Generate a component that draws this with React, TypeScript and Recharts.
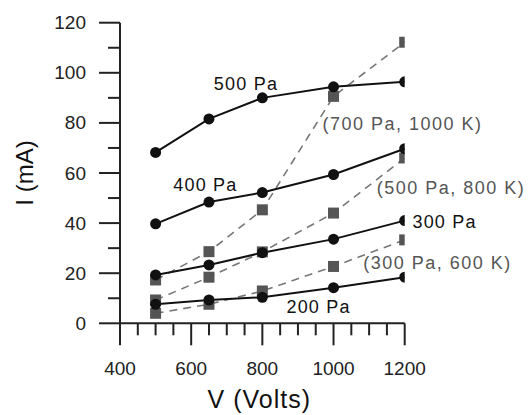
import React from 'react';
import { LineChart, Line, XAxis, YAxis, ReferenceDot } from 'recharts';

const voltages = [500, 650, 800, 1000, 1200];
const i200 = [7.6, 9.3, 10.4, 14.2, 18.4];
const i300 = [19.3, 23.3, 28.2, 33.6, 41];
const i400 = [39.7, 48.4, 52.2, 59.4, 69.7];
const i500 = [68.2, 81.6, 90, 94.4, 96.4];
const s300_600 = [4, 7.6, 12.9, 22.7, 33.3];
const s500_800 = [9.3, 18.4, 28.5, 44, 66];
const s700_1000 = [17.3, 28.6, 45.3, 90.6, 112.2];

const xTicks = [400, 450, 500, 550, 600, 650, 700, 750, 800, 850, 900, 950, 1000, 1050, 1100, 1150, 1200];
const yTicks = [0, 10, 20, 30, 40, 50, 60, 70, 80, 90, 100, 110, 120];

const annotations = [
  { text: '500 Pa', v: 754, i: 95.7, kind: 'circle' },
  { text: '400 Pa', v: 640, i: 55.3, kind: 'circle' },
  { text: '300 Pa', v: 1312, i: 40.5, kind: 'circle' },
  { text: '200 Pa', v: 958, i: 6.5, kind: 'circle' },
  { text: '(700 Pa, 1000 K)', v: 1194, i: 79.7, kind: 'square' },
  { text: '(500 Pa, 800 K)', v: 1330, i: 54.1, kind: 'square' },
  { text: '(300 Pa, 600 K)', v: 1292, i: 24.1, kind: 'square' },
];

const toData = (vals: number[]) => voltages.map((v, k) => ({ v, i: vals[k] }));

const FONT = '"Liberation Sans", Arial, Helvetica, sans-serif';

const circleDot = (props: any) => {
  const { cx, cy, index } = props;
  return <circle key={`c${index}`} cx={cx} cy={cy} r={5.5} fill="#111" />;
};
const squareDot = (props: any) => {
  const { cx, cy, index } = props;
  return <rect key={`s${index}`} x={cx - 5.5} y={cy - 5.5} width={11} height={11} fill="#555" />;
};

const XTick = (props: any) => {
  const { x, y, payload } = props;
  const v = payload.value;
  const major = (v - 400) % 200 === 0;
  return (
    <g>
      <line x1={x} x2={x} y1={y} y2={y + (major ? 22 : 12)} stroke="#222" strokeWidth={2} />
      {major && (
        <text x={x} y={y + 45} textAnchor="middle" dominantBaseline="central" fontFamily={FONT} fontSize={19} fill="#222">
          {v}
        </text>
      )}
    </g>
  );
};

const YTick = (props: any) => {
  const { x, y, payload } = props;
  const v = payload.value;
  const major = v % 20 === 0;
  return (
    <g>
      <line x1={x - (major ? 21 : 12)} x2={x} y1={y} y2={y} stroke="#222" strokeWidth={2} />
      {major && (
        <text x={x - 34} y={y} textAnchor="end" dominantBaseline="central" fontFamily={FONT} fontSize={19} fill="#222">
          {v}
        </text>
      )}
    </g>
  );
};

export default function App() {
  return (
    <div style={{ position: 'absolute', left: 0, top: 0, background: '#fff' }}>
      <LineChart width={528} height={415} margin={{ top: 22.7, right: 123.3, bottom: 0, left: 0 }}>
        <XAxis
          type="number"
          dataKey="v"
          domain={[400, 1200]}
          ticks={xTicks}
          interval={0}
          tick={<XTick />}
          tickLine={false}
          tickSize={0}
          tickMargin={0}
          axisLine={{ stroke: '#222', strokeWidth: 2 }}
          height={91.7}
          allowDataOverflow
          label={{
            content: (p: any) => {
              const vb = p.viewBox;
              return (
                <text x={vb.x + vb.width / 2 - 3} y={vb.y + 76} textAnchor="middle" dominantBaseline="central" fontFamily={FONT} fontSize={25} letterSpacing={1} fill="#111">
                  V (Volts)
                </text>
              );
            },
          }}
        />
        <YAxis
          type="number"
          domain={[0, 120]}
          ticks={yTicks}
          interval={0}
          tick={<YTick />}
          tickLine={false}
          tickSize={0}
          tickMargin={0}
          axisLine={{ stroke: '#222', strokeWidth: 2 }}
          width={120}
          allowDataOverflow
          label={{
            content: (p: any) => {
              const vb = p.viewBox;
              const cy = vb.y + vb.height / 2;
              return (
                <text transform={`translate(${vb.x + 24}, ${cy}) rotate(-90)`} textAnchor="middle" dominantBaseline="central" fontFamily={FONT} fontSize={24} fill="#111">
                  I (mA)
                </text>
              );
            },
          }}
        />
        {[s700_1000, s500_800, s300_600].map((s, k) => (
          <Line
            key={`sq${k}`}
            data={toData(s)}
            dataKey="i"
            type="linear"
            stroke="#777"
            strokeWidth={1.6}
            strokeDasharray="8 6"
            dot={squareDot}
            activeDot={false}
            isAnimationActive={false}
          />
        ))}
        {[i500, i400, i300, i200].map((s, k) => (
          <Line
            key={`ci${k}`}
            data={toData(s)}
            dataKey="i"
            type="linear"
            stroke="#111"
            strokeWidth={2}
            dot={circleDot}
            activeDot={false}
            isAnimationActive={false}
          />
        ))}
        {annotations.map((a, k) => (
          <ReferenceDot
            key={`a${k}`}
            x={a.v}
            y={a.i}
            r={0}
            fill="none"
            stroke="none"
            ifOverflow="visible"
            label={{
              content: (p: any) => {
                const vb = p.viewBox;
                return (
                  <text
                    x={vb.x + vb.width / 2}
                    y={vb.y + vb.height / 2}
                    textAnchor="middle"
                    dominantBaseline="central"
                    fontFamily={FONT}
                    fontSize={18}
                    letterSpacing={a.kind === 'circle' ? 1.2 : 1.5}
                    fill={a.kind === 'circle' ? '#111' : '#555'}
                  >
                    {a.text}
                  </text>
                );
              },
            }}
          />
        ))}
      </LineChart>
    </div>
  );
}
